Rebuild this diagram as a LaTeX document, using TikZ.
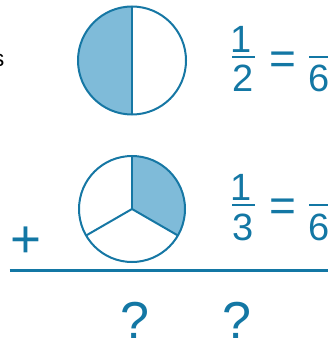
\documentclass[tikz,border=0pt]{standalone}
\usepackage{fontspec}
\setmainfont{Liberation Sans}
\definecolor{strokeblue}{HTML}{1677A4}
\definecolor{fillblue}{HTML}{7FBBD9}
\definecolor{textblue}{HTML}{1377A4}
\tikzset{
  x=1pt, y=-1pt,
  pie/.style={draw=strokeblue, line width=2pt},
  digit/.style={text=textblue, inner sep=0pt, anchor=base, font=\fontsize{38}{38}\selectfont},
  eqsign/.style={text=textblue, inner sep=0pt, anchor=base, font=\fontsize{46}{46}\selectfont},
  bigsign/.style={text=textblue, inner sep=0pt, anchor=base, font=\fontsize{53}{53}\selectfont},
  fracbar/.style={draw=textblue, line width=2.6pt},
}
\begin{document}
\begin{tikzpicture}
\useasboundingbox (0,0) rectangle (328,342);
% left cut text
\node[inner sep=0pt, anchor=base east, font=\fontsize{23}{23}\selectfont] (s) at (4.5,67) {s};
% circle 1: halves (y axis points down, so angles are mirrored)
\coordinate (c1) at (132,60.5);
\fill[fillblue] (132,6.5) arc[start angle=-90, end angle=-270, radius=54] -- cycle;
\draw[pie] (c1) circle[radius=54];
\draw[pie] (132,6.5) -- (132,114.5);
% circle 2: thirds
\coordinate (c2) at (132,209);
\fill[fillblue] (c2) -- ++(-90:53) arc[start angle=-90, end angle=30, radius=53] -- cycle;
\draw[pie] (c2) circle[radius=53];
\draw[pie] (c2) -- ++(-90:53);
\draw[pie] (c2) -- ++(30:53);
\draw[pie] (c2) -- ++(150:53);
% fraction 1/2 = ?/6
\node[digit] (n1) at (241,53) {1};
\draw[fracbar] (232,57) -- (255,57);
\node[digit] (d1) at (243,92) {2};
\node[eqsign] (e1) at (282.5,74.5) {=};
\draw[fracbar] (309,57) -- (328,57);
\node[digit] (s1) at (319,92) {6};
% fraction 1/3 = ?/6
\node[digit] (n2) at (241,200) {1};
\draw[fracbar] (232,205) -- (255,205);
\node[digit] (d2) at (243,240) {3};
\node[eqsign] (e2) at (282.5,221.5) {=};
\draw[fracbar] (309,205) -- (328,205);
\node[digit] (s2) at (319,240) {6};
% plus and rule
\node[bigsign] (plus) at (25.5,257) {+};
\coordinate (r1) at (9.5,270.5);
\coordinate (r2) at (328,270.5);
\draw[draw=textblue, line width=2.5pt] (r1) -- (r2);
% question marks
\node[bigsign, font=\fontsize{52}{52}\selectfont] (q1) at (134.5,338) {?};
\node[bigsign, font=\fontsize{52}{52}\selectfont] (q2) at (237,338) {?};
\end{tikzpicture}
\end{document}
